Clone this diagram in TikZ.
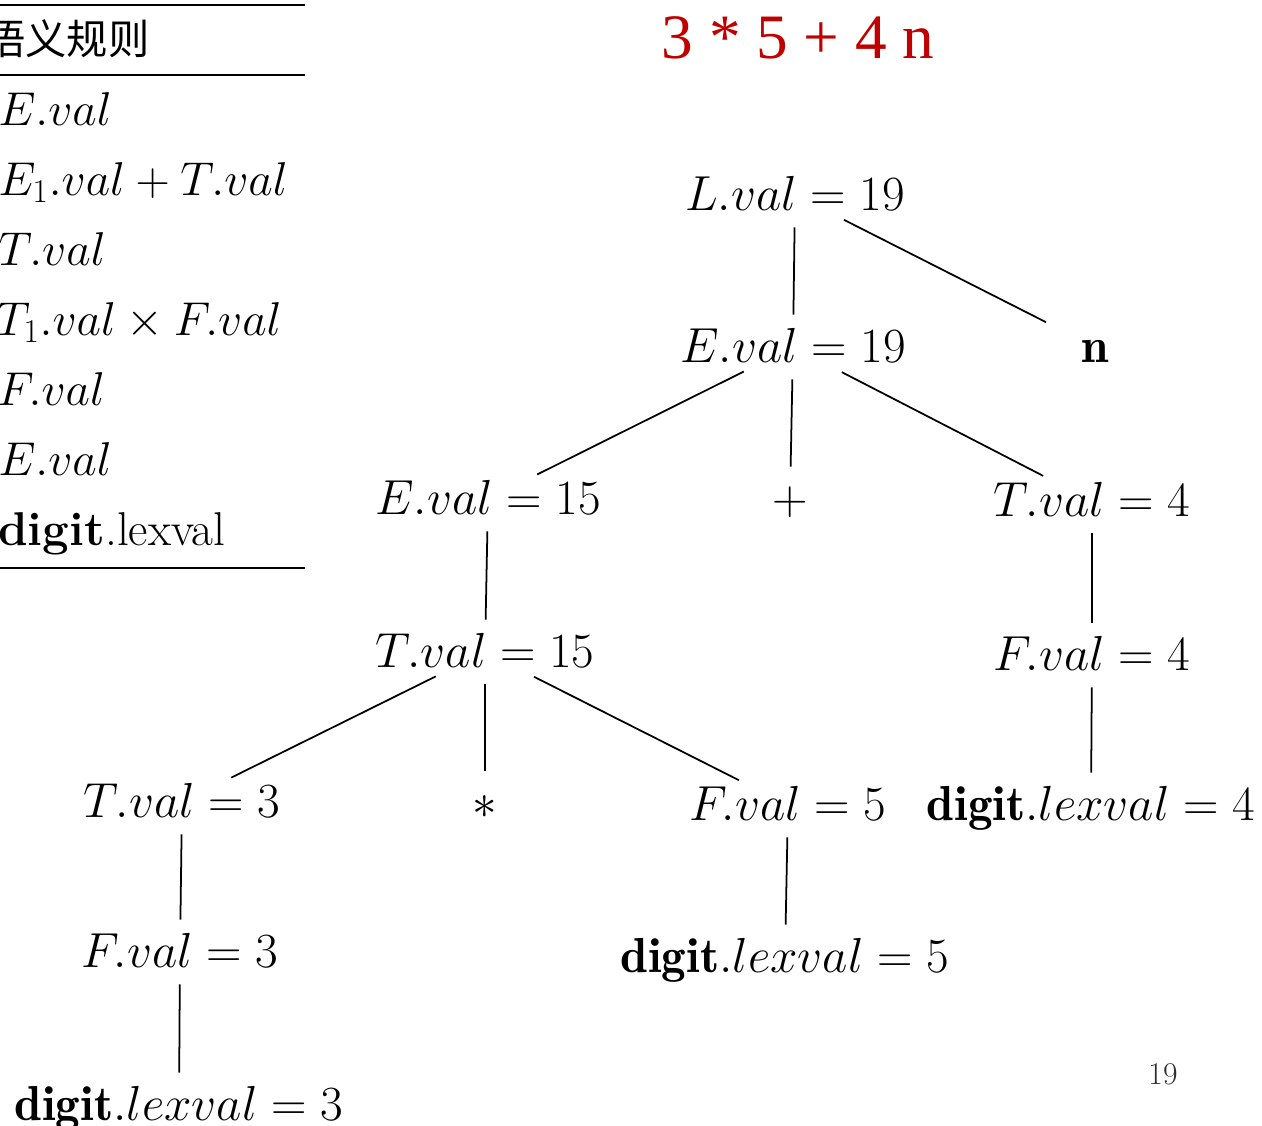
\RequirePackage{fix-cm}
\documentclass[tikz,border=0pt]{standalone}
\usepackage{amsmath}
\usepackage{fontspec}
\newfontfamily\cjkfont{Noto Sans CJK SC}
\newfontfamily\titlefont{Liberation Serif}
\usetikzlibrary{positioning}
\definecolor{titlered}{RGB}{192,0,0}
\definecolor{pagegray}{RGB}{45,45,45}

\begin{document}
\begin{tikzpicture}[
  x=0.02cm, y=-0.02cm,
  attr/.style={font=\fontsize{28}{34}\selectfont, anchor=base,
               inner xsep=0pt, inner ysep=0.1cm,
               text height=0.84cm, text depth=0.24cm, minimum width=2.6cm},
  edge/.style={line width=1pt},
  slant/.style={edge, shorten <=1.1cm, shorten >=1.1cm},
  rule/.style={line width=1.2pt},
  cell/.style={font=\fontsize{27}{32}\selectfont, anchor=base west, inner sep=0pt},
]
\useasboundingbox (0,0) rectangle (1262,1126);

%% Semantic rules column (cut at the left edge)
\draw[rule] (0,5) -- (305,5);
\node[cell, font={\cjkfont\fontsize{23.5}{27}\selectfont}] (head) at (-16,54) {语义规则};
\draw[rule] (0,75) -- (305,75);
\node[cell] (r1) at (-2,125) {$E.val$};
\node[cell] (r2) at (-2,195) {$E_1.val + T.val$};
\node[cell] (r3) at (-2,265) {$T.val$};
\node[cell] (r4) at (-4,335) {$T_1.val \times F.val$};
\node[cell] (r5) at (-3,405) {$F.val$};
\node[cell] (r6) at (-2,475) {$E.val$};
\node[cell] (r7) at (-2,545) {\textbf{digit}.lexval};
\draw[rule] (0,568) -- (305,568);

%% Input string
\node[font={\titlefont\fontsize{36}{42}\selectfont}, text=titlered, anchor=base] (title) at (798,58) {3 * 5 + 4 n};

%% Annotated parse tree
\node[attr] (L)    at (795,210)  {$L.val = 19$};
\node[attr] (E19)  at (793,362)  {$E.val = 19$};
\node[attr] (n)    at (1095,362) {$\mathbf{n}$};
\node[attr] (E15)  at (488,514)  {$E.val = 15$};
\node[attr] (plus) at (790,514)  {$+$};
\node[attr] (T4)   at (1092,516) {$T.val = 4$};
\node[attr] (T15)  at (485,667)  {$T.val = 15$};
\node[attr] (F4)   at (1092,670) {$F.val = 4$};
\node[attr] (T3)   at (182,817)  {$T.val = 3$};
\node[attr] (star) at (485,818)  {$*$};
\node[attr] (F5)   at (788,820)  {$F.val = 5$};
\node[attr] (d4)   at (1091,820) {$\mathbf{digit}.lexval = 4$};
\node[attr] (F3)   at (180,967)  {$F.val = 3$};
\node[attr] (d5)   at (785,972)  {$\mathbf{digit}.lexval = 5$};
\node[attr] (d3)   at (179,1120) {$\mathbf{digit}.lexval = 3$};

\draw[edge]  (L) -- (E19);
\draw[slant] (L.center) -- (n.center);
\draw[slant] (E19.center) -- (E15.center);
\draw[edge]  (E19) -- (plus);
\draw[slant] (E19.center) -- (T4.center);
\draw[edge]  (E15) -- (T15);
\draw[edge]  (T4) -- (F4);
\draw[slant] (T15.center) -- (T3.center);
\draw[edge]  (T15) -- (star);
\draw[slant] (T15.center) -- (F5.center);
\draw[edge]  (F4) -- (d4);
\draw[edge]  (T3) -- (F3);
\draw[edge]  (F5) -- (d5);
\draw[edge]  (F3) -- (d3);

%% Page number
\node[font=\fontsize{18}{22}\selectfont, text=pagegray, anchor=base] (page) at (1163,1084) {19};
\end{tikzpicture}
\end{document}
